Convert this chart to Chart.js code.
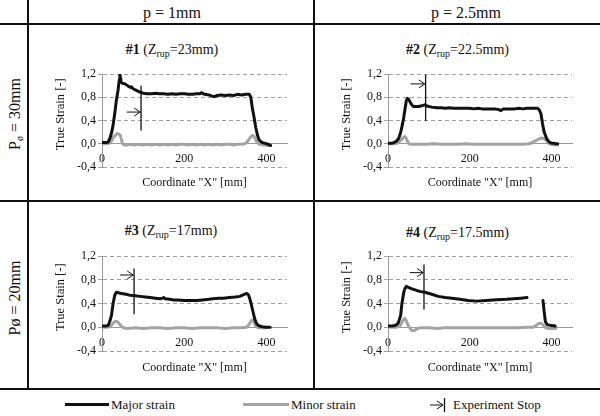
<!DOCTYPE html>
<html><head><meta charset="utf-8">
<script src="https://cdn.jsdelivr.net/npm/chart.js@4"></script>
<style>
html,body{margin:0;padding:0;background:#fff;}
body{width:600px;height:416px;position:relative;overflow:hidden;font-family:'Liberation Serif',serif;color:#111;}
.hl{position:absolute;background:#111;height:2px;}
.vl{position:absolute;background:#111;width:2px;}
.t{position:absolute;white-space:nowrap;transform:translate(-50%,-50%);line-height:1;}
.r{position:absolute;white-space:nowrap;transform:translate(-50%,-50%) rotate(-90deg);line-height:1;font-size:16px;}
.hd{font-size:16px;}
.ct{font-size:14px;}
sub{font-size:10px;line-height:0;vertical-align:-3px;}
canvas{position:absolute;}
.lg{position:absolute;font-size:13px;line-height:1;white-space:nowrap;}
.ll{position:absolute;height:3px;}
</style></head><body>
<div class="hl" style="left:0;top:23px;width:600px"></div>
<div class="hl" style="left:0;top:200px;width:600px"></div>
<div class="hl" style="left:0;top:388px;width:600px"></div>
<div class="vl" style="left:27px;top:0;height:390px"></div>
<div class="vl" style="left:313px;top:0;height:390px"></div>

<div class="t hd" id="col0" style="left:172px;top:12.5px"></div>
<div class="t hd" id="col1" style="left:466px;top:12.5px"></div>
<div class="r" id="row0" style="left:14.6px;top:113.5px"></div>
<div class="r" id="row1" style="left:15.3px;top:298px"></div>

<div class="t ct" id="title0" style="left:172px;top:50.3px"></div>
<div class="t ct" id="title1" style="left:457.5px;top:49.8px"></div>
<div class="t ct" id="title2" style="left:171px;top:231.3px"></div>
<div class="t ct" id="title3" style="left:457.5px;top:232.6px"></div>

<canvas id="c0" width="244" height="130" style="left:53px;top:62px"></canvas>
<canvas id="c1" width="243" height="130" style="left:339px;top:62px"></canvas>
<canvas id="c2" width="244" height="132" style="left:53px;top:244px"></canvas>
<canvas id="c3" width="243" height="132" style="left:339px;top:244px"></canvas>

<div class="ll" style="left:65px;top:403px;width:44px;background:#111"></div>
<div class="lg" style="left:111px;top:398px">Major strain</div>
<div class="ll" style="left:243px;top:403px;width:46px;background:#a3a3a3"></div>
<div class="lg" style="left:291px;top:398px">Minor strain</div>
<svg style="position:absolute;left:428px;top:396px" width="20" height="18">
  <line x1="2" y1="9" x2="15" y2="9" stroke="#111" stroke-width="1"/>
  <polyline points="9,5 15,9 9,13" fill="none" stroke="#111" stroke-width="1"/>
  <line x1="16.5" y1="2" x2="16.5" y2="16" stroke="#111" stroke-width="1.3"/>
</svg>
<div class="lg" style="left:453px;top:398px">Experiment Stop</div>

<script>
// ---- Data ----
const columnHeaders = ['p = 1mm', 'p = 2.5mm'];
const rowHeaders = ['P<sub>ø</sub> = 30mm', 'Pø = 20mm'];
const chartNumbers = ['#1', '#2', '#3', '#4'];
const zRup = ['23mm', '22.5mm', '17mm', '17.5mm'];
const yTitles = ['True Strain [-]', 'True Strain [-]', 'True Stain [-]', 'True Strain [-]'];
const xTitle = 'Coordinate "X" [mm]';
const xTicks = [0, 200, 400];
const yTicks = [-0.4, 0, 0.4, 0.8, 1.2];

// [coordinate X (mm), true strain]
const major1 = [[0,0.02],[10,0.02],[15,0.03],[19,0.09],[23,0.18],[27,0.32],[31,0.52],[35,0.75],[39,0.92],[42,1.1],[43.5,1.2],[45,1.12],[46,1.06],[50,1.04],[56,1.03],[62,1.0],[66,0.98],[70,0.97],[72,0.98],[75,0.95],[80,0.93],[86,0.91],[92,0.89],[100,0.87],[110,0.86],[120,0.86],[130,0.87],[140,0.86],[150,0.86],[160,0.85],[170,0.86],[180,0.85],[190,0.86],[200,0.86],[210,0.85],[220,0.85],[230,0.86],[238,0.86],[242,0.88],[246,0.86],[250,0.85],[260,0.84],[268,0.82],[273,0.81],[280,0.83],[290,0.84],[300,0.83],[310,0.84],[320,0.83],[330,0.85],[340,0.84],[350,0.85],[358,0.85],[362,0.8],[366,0.6],[370,0.45],[374,0.28],[378,0.15],[382,0.07],[386,0.04],[390,0.02],[395,0.01],[400,0.0],[405,-0.01],[410,-0.03]];
const minor1 = [[0,0.0],[10,0.0],[18,0.01],[24,0.06],[28,0.12],[32,0.14],[36,0.17],[40,0.17],[44,0.15],[47,0.08],[50,0.0],[55,-0.02],[60,-0.02],[70,-0.01],[80,-0.02],[90,-0.01],[100,-0.02],[110,-0.01],[120,-0.02],[130,-0.01],[140,-0.02],[150,-0.01],[160,-0.02],[170,-0.01],[180,-0.02],[190,-0.01],[200,-0.01],[210,-0.02],[220,-0.01],[230,-0.02],[240,-0.01],[250,-0.02],[260,-0.01],[270,-0.02],[280,-0.01],[290,-0.02],[300,-0.01],[310,-0.01],[320,-0.02],[330,-0.01],[340,-0.01],[348,0.0],[354,0.04],[360,0.1],[365,0.14],[368,0.14],[372,0.1],[376,0.04],[380,0.0],[385,-0.01],[390,-0.02],[395,-0.02],[400,-0.03],[410,-0.03]];

const major2 = [[0,0.01],[10,0.01],[14,0.02],[20,0.04],[26,0.09],[30,0.17],[34,0.29],[38,0.43],[41,0.57],[45,0.75],[48,0.78],[51,0.76],[54,0.72],[58,0.67],[62,0.64],[68,0.64],[74,0.64],[80,0.65],[86,0.66],[90,0.67],[95,0.65],[100,0.64],[107,0.63],[120,0.62],[130,0.62],[140,0.61],[150,0.62],[160,0.61],[170,0.61],[180,0.61],[190,0.61],[200,0.61],[210,0.6],[220,0.61],[230,0.6],[240,0.6],[250,0.6],[260,0.6],[270,0.59],[276,0.57],[282,0.6],[290,0.6],[300,0.6],[310,0.6],[320,0.61],[330,0.6],[340,0.61],[350,0.61],[360,0.61],[366,0.61],[370,0.58],[374,0.52],[378,0.34],[382,0.2],[388,0.09],[394,0.03],[400,0.01],[405,0.01],[410,0.0],[415,0.0]];
const minor2 = [[0,0.0],[15,0.0],[22,0.01],[26,0.02],[30,0.05],[34,0.08],[38,0.11],[41,0.125],[44,0.1],[47,0.05],[51,0.0],[56,-0.01],[70,-0.01],[90,-0.01],[110,0.0],[130,-0.01],[150,-0.01],[170,-0.01],[190,0.0],[210,-0.01],[230,-0.01],[250,-0.01],[270,-0.01],[290,-0.01],[310,-0.01],[330,-0.01],[345,0.0],[352,0.02],[360,0.05],[366,0.07],[372,0.09],[378,0.1],[383,0.08],[388,0.05],[394,0.0],[400,-0.01],[408,-0.02],[415,-0.02]];

const major3 = [[0,0.02],[10,0.02],[15,0.03],[19,0.1],[23,0.2],[27,0.4],[31,0.54],[35,0.59],[40,0.58],[47,0.57],[55,0.56],[62,0.55],[68,0.54],[80,0.53],[93,0.52],[105,0.51],[117,0.5],[130,0.49],[142,0.48],[147,0.49],[150,0.5],[154,0.48],[165,0.47],[174,0.46],[185,0.46],[200,0.45],[215,0.45],[230,0.45],[245,0.46],[260,0.47],[270,0.48],[283,0.49],[295,0.49],[310,0.5],[324,0.51],[335,0.52],[342,0.54],[348,0.56],[352,0.57],[356,0.55],[360,0.47],[364,0.36],[368,0.24],[372,0.13],[377,0.05],[383,0.02],[390,0.01],[400,0.0],[409,0.0]];
const minor3 = [[0,0.0],[15,0.0],[20,0.02],[25,0.05],[30,0.09],[34,0.1],[38,0.09],[43,0.05],[48,0.01],[52,-0.01],[60,-0.02],[80,-0.01],[100,-0.02],[120,-0.01],[140,-0.01],[160,-0.02],[180,-0.01],[200,-0.01],[220,-0.02],[240,-0.01],[260,-0.01],[280,-0.01],[300,-0.02],[320,-0.01],[340,-0.01],[352,0.0],[358,0.05],[363,0.11],[366,0.12],[370,0.08],[374,0.02],[380,-0.01],[390,-0.01],[400,-0.01]];

const major4 = [[0,0.02],[10,0.02],[16,0.03],[20,0.04],[25,0.07],[31,0.2],[34,0.4],[39,0.6],[42,0.66],[45,0.69],[50,0.67],[57,0.65],[70,0.62],[80,0.6],[90,0.59],[105,0.56],[123,0.52],[140,0.5],[156,0.49],[176,0.47],[196,0.45],[217,0.44],[240,0.45],[266,0.465],[290,0.47],[307,0.48],[325,0.49],[340,0.5],[341,null],[379,0.45],[382,0.26],[385,0.09],[390,0.04],[400,0.03],[409,0.02]];
const minor4 = [[0,0.0],[20,0.0],[29,0.02],[34,0.08],[38,0.13],[41,0.15],[44,0.12],[48,0.05],[52,0.0],[57,-0.05],[62,-0.06],[66,-0.05],[72,-0.02],[80,-0.01],[100,-0.01],[120,-0.02],[140,-0.01],[160,-0.01],[180,-0.01],[200,-0.01],[220,-0.01],[240,-0.01],[260,-0.01],[280,-0.01],[300,-0.01],[320,-0.01],[340,0.0],[355,0.0],[362,0.03],[368,0.06],[372,0.07],[378,0.05],[384,0.0],[390,-0.02],[400,-0.02],[410,-0.02]];

// Experiment stop markers (coordinate X in mm, strain values)
const stopX = [95, 92, 78, 88];
const stopTop = [1.0, 1.19, 0.99, 1.055];
const stopBottom = [0.23, 0.39, 0.22, 0.30];
const arrowY = [0.545, 1.03, 0.88, 0.92];
const arrowFrom = [60, 55, 44, 53];
const arrowTo = [93, 90, 76, 86];

const majors = [major1, major2, major3, major4];
const minors = [minor1, minor2, minor3, minor4];

// ---- Text ----
document.getElementById('col0').textContent = columnHeaders[0];
document.getElementById('col1').textContent = columnHeaders[1];
document.getElementById('row0').innerHTML = rowHeaders[0];
document.getElementById('row1').innerHTML = rowHeaders[1];
for (let i = 0; i < 4; i++) {
  document.getElementById('title' + i).innerHTML = '<b>' + chartNumbers[i] + '</b> (Z<sub>rup</sub>=' + zRup[i] + ')';
}

const FAMILY = 'Liberation Serif';
Chart.defaults.font.family = FAMILY;
Chart.defaults.color = '#111';

const stopPlugin = {
  id: 'stopMarker',
  afterDatasetsDraw(chart, args, opts) {
    const i = opts.index;
    const xs = chart.scales.x, ys = chart.scales.y;
    const ctx = chart.ctx;
    ctx.save();
    ctx.strokeStyle = '#111';
    ctx.lineWidth = 1.3;
    const vx = xs.getPixelForValue(stopX[i]);
    ctx.beginPath();
    ctx.moveTo(vx, ys.getPixelForValue(stopTop[i]));
    ctx.lineTo(vx, ys.getPixelForValue(stopBottom[i]));
    ctx.stroke();
    ctx.lineWidth = 1;
    const ay = ys.getPixelForValue(arrowY[i]);
    const a0 = xs.getPixelForValue(arrowFrom[i]);
    const a1 = xs.getPixelForValue(arrowTo[i]);
    ctx.beginPath();
    ctx.moveTo(a0, ay); ctx.lineTo(a1, ay);
    ctx.moveTo(a1 - 6, ay - 4); ctx.lineTo(a1, ay); ctx.lineTo(a1 - 6, ay + 4);
    ctx.stroke();
    ctx.restore();
  }
};

function toPts(arr) { return arr.map(p => ({x: p[0], y: p[1]})); }

function draw() {
  for (let i = 0; i < 4; i++) {
    new Chart(document.getElementById('c' + i), {
      type: 'line',
      data: {
        datasets: [
          {label: 'Major strain', data: toPts(majors[i]), borderColor: '#111', borderWidth: 3, spanGaps: false},
          {label: 'Minor strain', data: toPts(minors[i]), borderColor: '#a3a3a3', borderWidth: 3}
        ]
      },
      options: {
        responsive: false,
        animation: false,
        devicePixelRatio: 1,
        layout: {padding: {left: 0, right: 10, top: 12, bottom: 25}},
        plugins: {legend: {display: false}, tooltip: {enabled: false}, stopMarker: {index: i}},
        elements: {point: {radius: 0}, line: {tension: 0, borderJoinStyle: 'round', borderCapStyle: 'round'}},
        scales: {
          x: {
            type: 'linear', min: 0, max: 450, position: {y: 0},
            afterBuildTicks: s => { s.ticks = xTicks.map(v => ({value: v})); },
            ticks: {padding: 8, color: '#111', font: {family: FAMILY, size: 12}, maxRotation: 0, autoSkip: false},
            grid: {display: true, drawOnChartArea: false, drawTicks: false},
            border: {display: true, color: '#999', width: 1},
            title: {display: true, text: xTitle, color: '#111', font: {family: FAMILY, size: 12}, padding: {top: 5, bottom: 0}}
          },
          y: {
            type: 'linear', min: -0.4, max: 1.2, position: 'left',
            afterBuildTicks: s => { s.ticks = yTicks.map(v => ({value: v})); },
            ticks: {padding: 2, color: '#111', font: {family: FAMILY, size: 12}, callback: v => v.toFixed(1).replace('.', ',')},
            grid: {color: '#a0a0a0', tickLength: 4, tickColor: '#a0a0a0', lineWidth: 1},
            border: {display: true, color: '#999', width: 1, dash: [4, 3]},
            title: {display: true, text: '    ' + yTitles[i], color: '#111', font: {family: FAMILY, size: 12.5}, padding: 0},
            afterFit: s => { s.width = 49; }
          }
        }
      },
      plugins: [stopPlugin]
    });
  }
}

if (document.fonts && document.fonts.load) {
  Promise.all([document.fonts.load("12px 'Liberation Serif'"), document.fonts.load("bold 14px 'Liberation Serif'")])
    .then(draw, draw);
} else {
  draw();
}
</script>
</body></html>
